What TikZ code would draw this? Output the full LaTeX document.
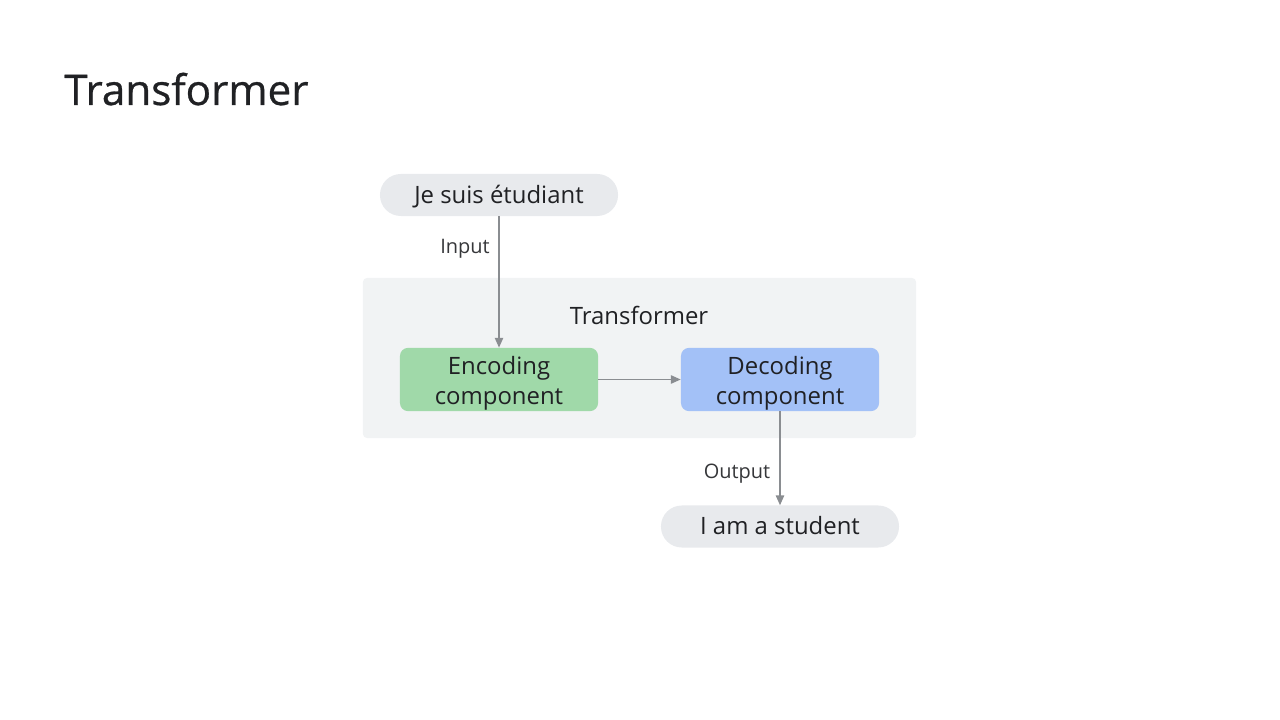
\documentclass[tikz,border=0pt]{standalone}
\usepackage{fontspec}
\setmainfont{Open Sans}
\newfontfamily\titlefont[FakeBold=0.7]{Open Sans}
\usetikzlibrary{arrows.meta}
\definecolor{pillgray}{HTML}{E8EAED}
\definecolor{panelgray}{HTML}{F1F3F4}
\definecolor{encgreen}{HTML}{A0D9A9}
\definecolor{decblue}{HTML}{A3C1F7}
\definecolor{linegray}{HTML}{8A8D91}
\definecolor{inkdark}{HTML}{202124}
\begin{document}
\begin{tikzpicture}[x=0.025cm, y=-0.025cm, every node/.style={text=inkdark, inner sep=0pt},
	pill/.style={fill=pillgray, rounded corners=0.52cm, minimum width=5.95cm, minimum height=1.05cm, text height=12pt, text depth=0pt, font=\fontsize{17}{21}\selectfont},
	comp/.style={rounded corners=0.2cm, minimum width=4.95cm, minimum height=1.58cm, align=center, text height=38.5pt, text depth=3pt, font=\fontsize{17}{21.5}\selectfont},
	lbl/.style={font=\fontsize{14.2}{17}\selectfont, text=inkdark!90},
	flow/.style={draw=linegray, line width=0.9pt, -{Triangle[length=7pt, width=6pt]}}]
	\useasboundingbox (0,0) rectangle (1280,720);
	\node[anchor=base west, font=\titlefont\fontsize{30}{36}\selectfont] (title) at (64,105) {Transformer};
	% transformer panel
	\node[fill=panelgray, rounded corners=0.1cm, minimum width=13.825cm, minimum height=4cm] (panel) at (639.5,358) {};
	\node[font=\fontsize{17}{21}\selectfont] (paneltitle) at (639,315) {Transformer};
	\node[comp, fill=encgreen] (enc) at (499,379.5) {Encoding\\component};
	\node[comp, fill=decblue] (dec) at (780,379.5) {Decoding\\component};
	% input and output
	\node[pill] (source) at (499,195) {Je suis étudiant};
	\node[pill] (target) at (780,526.5) {I am a student};
	\node[lbl] (inlbl) at (465,249) {Input};
	\node[lbl] (outlbl) at (737,474) {Output};
	\draw[flow] (source.south) -- (enc.north);
	\draw[flow] (enc.east) -- (dec.west);
	\draw[flow] (dec.south) -- (target.north);
\end{tikzpicture}
\end{document}
